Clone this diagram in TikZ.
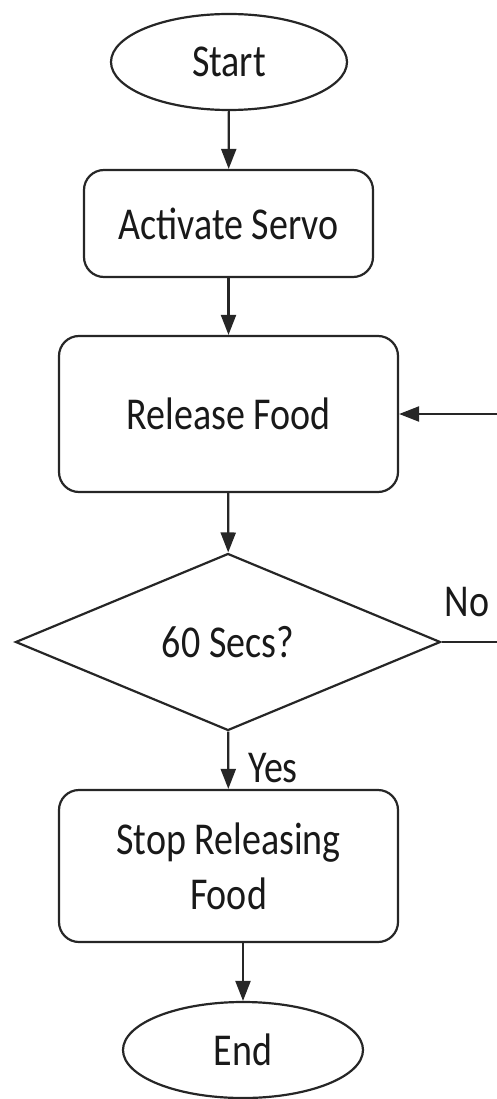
\documentclass[tikz,border=0pt]{standalone}
\usepackage{fontspec}
\setmainfont{Carlito}
\usetikzlibrary{shapes.geometric,arrows.meta}
\newcommand{\vst}[1]{\scalebox{1}[1.2]{#1}}
\begin{document}
\begin{tikzpicture}[x=1pt,y=-1pt,
  every node/.style={font=\fontsize{38}{55}\selectfont, text=black!90},
  outl/.style={draw=black!85, line width=2.2pt},
  term/.style={outl, ellipse, inner sep=0pt},
  proc/.style={outl, rectangle, rounded corners=20pt, inner sep=0pt, align=center},
  dec/.style={outl, diamond, inner sep=0pt},
  arr/.style={draw=black!85, line width=2.2pt, -{Triangle[length=20pt,width=15pt]}},
  plain/.style={draw=black!85, line width=2.2pt}]
\useasboundingbox (0,0) rectangle (497,1099);
\node[term, minimum width=236pt, minimum height=96pt] (start) at (229,62) {\vst{Start}};
\node[proc, minimum width=289pt, minimum height=107pt] (act) at (228.5,223.5) {\vst{Activate Servo}};
\node[proc, minimum width=339pt, minimum height=156pt] (rel) at (228.5,414) {\vst{Release Food}};
\node[dec, minimum width=425pt, minimum height=177pt] (dia) at (228,642) {\vst{60 Secs?}};
\node[proc, minimum width=339pt, minimum height=152pt] (stop) at (228.5,866) {\vst{Stop Releasing}\\\vst{Food}};
\node[term, minimum width=240pt, minimum height=96pt] (end) at (243,1050) {\vst{End}};
\node (no) at (467,602) {\vst{No}};
\node (yes) at (273,768) {\vst{Yes}};
\coordinate (noend) at (497,642);
\coordinate (noret) at (497,414);
\draw[arr] (start) -- (act);
\draw[arr] (act) -- (rel);
\draw[arr] (rel) -- (dia);
\draw[arr] (dia) -- (stop);
\draw[arr] (end.north |- stop.south) -- (end.north);
\draw[plain] (dia.east) -- (noend);
\draw[arr] (noret) -- (rel.east);
\end{tikzpicture}
\end{document}
